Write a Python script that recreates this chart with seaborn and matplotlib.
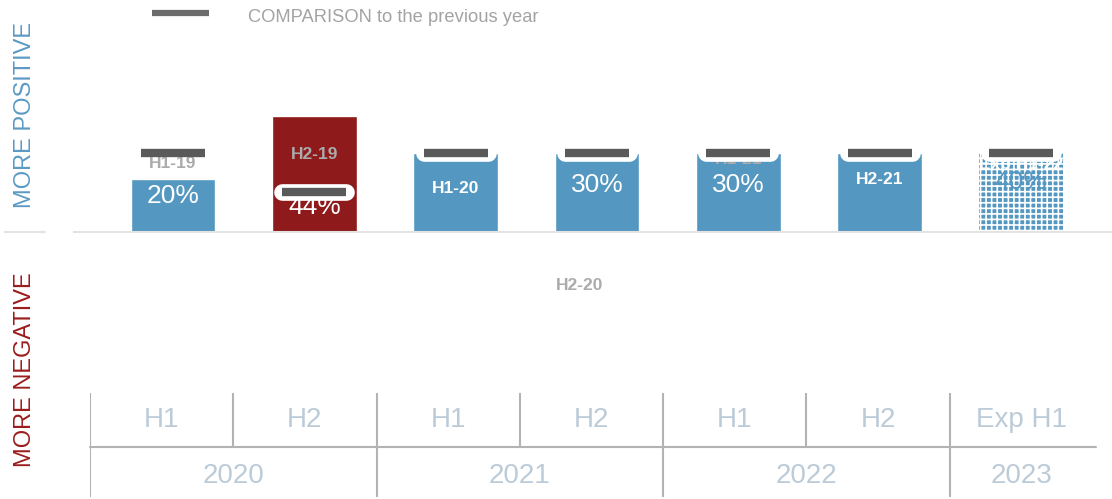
import numpy as np
import matplotlib
matplotlib.use("Agg")
import matplotlib.pyplot as plt
import matplotlib.patheffects as pe
import seaborn as sns

# Bar values (share, %) and the previous-year comparison values
periods = ["H1 2020", "H2 2020", "H1 2021", "H2 2021", "H1 2022", "H2 2022", "Exp H1 2023"]
values = [20, 44, 30, 30, 30, 30, 30]
previous = [30, 15, 30, 30, 30, 30, 30]
bar_colors = ["#5497c1", "#8e1a1b", "#5497c1", "#5497c1", "#5497c1", "#5497c1", "#5497c1"]

# Text sitting on the bars
pct_labels = ["20%", "44%", "", "30%", "30%", "", "40%"]
pct_y = [13.7, 9.5, 0, 17.9, 17.9, 0, 19.0]
code_labels = ["H1-19", "H2-19", "H1-20", "", "H1-21", "H2-21", "Exp H1-22"]
code_y = [25.9, 29.3, 16.7, 0, 27.4, 19.8, 25.5]
code_colors = ["#ababab", "#ababab", "white", "white", "#ababab", "white", "white"]
stray_label = "H2-20"

# Bottom table
halves = ["H1", "H2", "H1", "H2", "H1", "H2", "Exp H1"]
years = ["2020", "2021", "2022", "2023"]
year_spans = [(0, 2), (2, 4), (4, 6), (6, 7)]

sns.set_style("white")
plt.rcParams["font.family"] = ["Liberation Sans", "DejaVu Sans"]
plt.rcParams["hatch.linewidth"] = 1.2
plt.rcParams["hatch.color"] = "white"

W, H = 1112, 499
fig = plt.figure(figsize=(W / 100, H / 100), dpi=100)

# Main bar axes
ax = fig.add_axes([73 / W, (H - 380) / H, 1 - 73 / W, 380 / H])
sns.barplot(x=periods, y=values, hue=periods, palette=bar_colors, width=0.6,
            saturation=1, legend=False, ax=ax)
ax.set_xlim(-0.707, 6.644)
ax.set_ylim(-56.3, 88.2)
ax.axis("off")
ax.axhline(0, color="#e3e3e3", lw=1.5, zorder=1)

# Last bar is the expectation: checkered look
last = ax.patches[len(periods) - 1]
last.set_hatch("+++")
last.set_edgecolor("white")
last.set_linewidth(0)

for i in range(len(periods)):
    if pct_labels[i]:
        c = "#5497c1" if i == 6 else "white"
        ax.text(i, pct_y[i], pct_labels[i], ha="center", va="center", fontsize=19,
                color=c, zorder=5)
    if code_labels[i]:
        ax.text(i, code_y[i], code_labels[i], ha="center", va="center", fontsize=12.5,
                fontweight="bold", color=code_colors[i], zorder=4)
ax.text(2.88, -20.5, stray_label, ha="center", va="center", fontsize=12.5,
        fontweight="bold", color="#ababab")

# Comparison markers
ax.plot(np.arange(len(periods))[1:], previous[1:], ls="none", marker="_", ms=46, mew=6,
        color="#5a5a5a", zorder=6,
        path_effects=[pe.Stroke(linewidth=12, foreground="white", capstyle="round"), pe.Normal()])
ax.plot([0], previous[:1], ls="none", marker="_", ms=46, mew=6, color="#5a5a5a", zorder=6)

# Bottom table
tab = fig.add_axes([90 / W, 2 / H, (1093 - 90) / W, 104 / H])
tab.set_xlim(0, 7)
tab.set_ylim(0, 104)
tab.axis("off")
line_c = "#b3b3b3"
tab.plot([0, 7.02], [50, 50], color=line_c, lw=1.5, clip_on=False)
for a, b in year_spans:
    tab.plot([a, a], [0, 104], color=line_c, lw=1.5)
for k in [1, 3, 5]:
    tab.plot([k, k], [50, 104], color=line_c, lw=1.5)
txt_c = "#bccbd8"
for i, h in enumerate(halves):
    tab.text(i + 0.5, 77, h, ha="center", va="center", fontsize=20, color=txt_c)
for (a, b), y in zip(year_spans, years):
    tab.text((a + b) / 2, 21, y, ha="center", va="center", fontsize=20, color=txt_c)

# Overlay for legend and side labels
ov = fig.add_axes([0, 0, 1, 1])
ov.set_xlim(0, W)
ov.set_ylim(H, 0)
ov.axis("off")
ov.plot([152, 209], [13, 13], color="#6b6b6b", lw=4.5, solid_capstyle="butt")
ov.text(248, 17, "COMPARISON to the previous year", ha="left", va="center",
        fontsize=13.2, color="#a3a3a3")
ov.text(25, 115, "MORE POSITIVE", rotation=90, ha="center", va="center",
        fontsize=17, color="#5b9ac4")
ov.text(25, 370, "MORE NEGATIVE", rotation=90, ha="center", va="center",
        fontsize=17, color="#9b1c1c")
ov.plot([5, 45], [232, 232], color="#e3e3e3", lw=1.5)

fig.savefig("out.png", dpi=100)
